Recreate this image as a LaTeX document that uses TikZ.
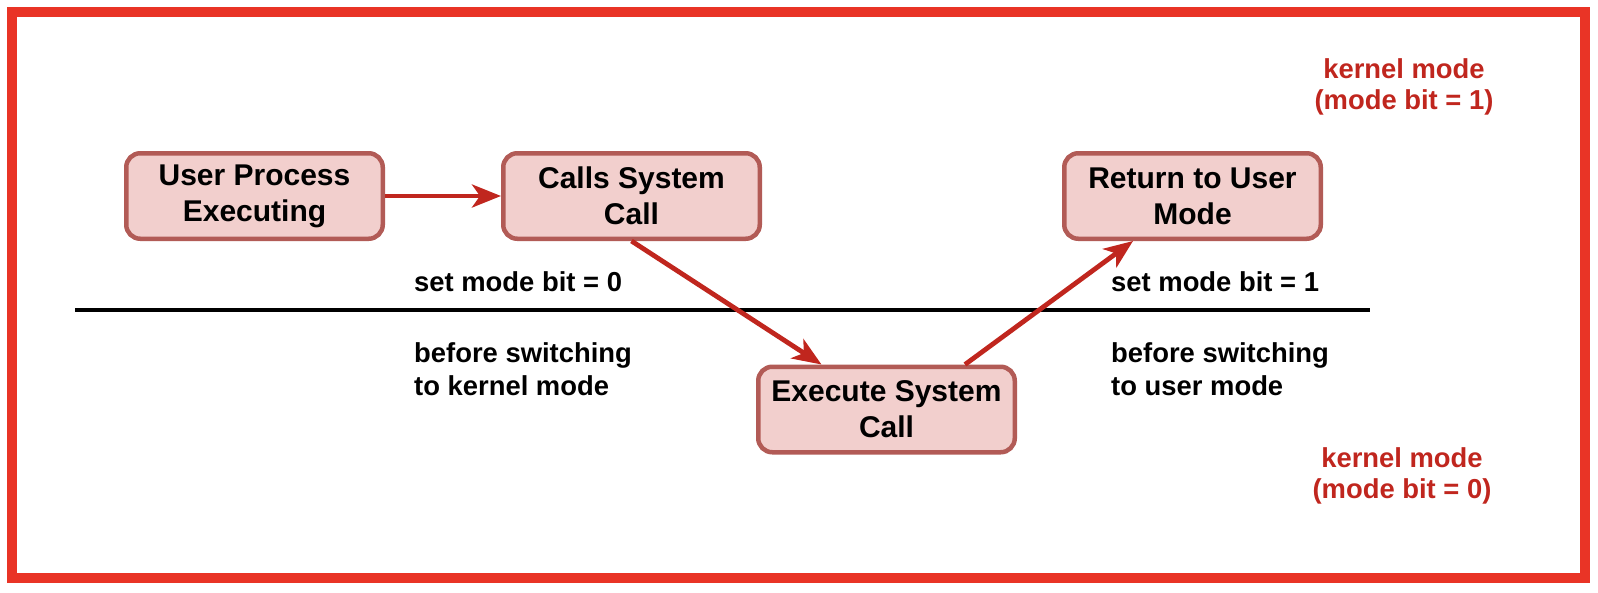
\documentclass[tikz,border=0pt]{standalone}
\usepackage{fontspec}
\setmainfont{Liberation Sans}
\usetikzlibrary{arrows.meta,calc}

\definecolor{rahmenrot}{RGB}{233,52,38}
\definecolor{pfeilrot}{RGB}{192,38,30}
\definecolor{kastenrand}{RGB}{178,91,86}
\definecolor{kastenfill}{RGB}{242,207,205}

\tikzset{
	kasten/.style={draw=kastenrand, fill=kastenfill, line width=4.5pt,
		rounded corners=14pt, minimum width=256.5pt, minimum height=85.5pt,
		inner sep=0pt, align=center,
		font=\fontsize{30}{36}\selectfont\bfseries},
	pfeil/.style={draw=pfeilrot, line width=4.8pt,
		-{Stealth[length=29pt, width=23pt, inset=8pt]}},
	hinweis/.style={anchor=west, align=left, inner sep=0pt,
		font=\fontsize{27.4}{33.5}\selectfont\bfseries},
	modus/.style={align=center, inner sep=0pt, text=pfeilrot,
		font=\fontsize{27.4}{31}\selectfont\bfseries}
}

\begin{document}
\begin{tikzpicture}[x=1pt, y=-1pt]
	\useasboundingbox (0, 0) rectangle (1598, 592);
	% Rahmen
	\draw[rahmenrot, line width=10pt] (12.3, 12.3) rectangle (1585, 577.5);

	% Trennlinie
	\draw[line width=4.5pt] (75, 310) -- (1370, 310);

	% Kaesten
	\node[kasten] (user) at (254.5, 196) {User Process\\Executing};
	\node[kasten] (calls) at (631.5, 196) {Calls System\\Call};
	\node[kasten] (return) at (1192.5, 196) {Return to User\\Mode};
	\node[kasten] (exec) at (886.5, 409.5) {Execute System\\Call};

	% Pfeile
	\draw[pfeil] (user) -- (calls);
	\draw[pfeil] (calls.south) -- ($(exec.north) + (-65, 0)$);
	\draw[pfeil] ($(exec.north) + (78.5, 0)$) -- ($(return.south) + (-59.5, 0)$);

	% Beschriftungen
	\node[hinweis] (setnull) at (414, 282) {set mode bit = 0};
	\node[hinweis] (seteins) at (1111, 282) {set mode bit = 1};
	\node[hinweis] (vorkernel) at (414, 369) {before switching\\to kernel mode};
	\node[hinweis] (voruser) at (1111, 369) {before switching\\to user mode};

	% Modus
	\node[modus] (modeins) at (1404, 87) {kernel mode\\(mode bit = 1)};
	\node[modus] (modnull) at (1402, 475.5) {kernel mode\\(mode bit = 0)};
\end{tikzpicture}
\end{document}
